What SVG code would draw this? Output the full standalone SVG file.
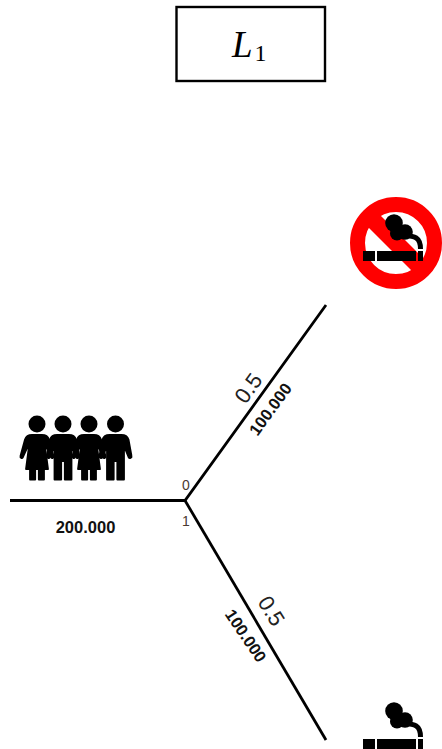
<svg xmlns="http://www.w3.org/2000/svg" width="442" height="749" viewBox="0 0 442 749">
<style>
.edge{fill:none;stroke:#000;stroke-width:2.8}
.box{fill:#fff;stroke:#000;stroke-width:2.4}
.sans{font-family:"Liberation Sans",Arial,sans-serif;text-anchor:middle}
.prob{font-size:22px;fill:#222}
.pay{font-size:16.500px;font-weight:bold;fill:#111}
.idx{font-size:14px;fill:#4a3a30}
.math{font-family:"Liberation Serif","Times New Roman",serif;fill:#000}
.fig{stroke:#000;stroke-width:1.800;stroke-linejoin:round}
</style>
<defs>
<g id="her">
<circle cx="0" cy="424" r="8.500"/>
<path class="fig" d="M-5 435H5C9 435 11 436.500 12 439.500L16.500 456C17 458 15 459 14 457L9 446H8L11 469H7V479.500H1.800V469H-1.800V479.500H-7V469H-11L-8 446H-9L-14 457C-15 459-17 458-16.500 456L-12 439.500C-11 436.500-9 435-5 435Z"/>
</g>
<g id="him">
<circle cx="0" cy="424" r="8.500"/>
<path class="fig" d="M-6 435H6C10 435 12 436.500 13 439.500L16 456C16.500 458 14 459 13 457L8.500 446V479.500H1.800V461H-1.800V479.500H-8.500V446L-13 457C-14 459-16.500 458-16 456L-13 439.500C-12 436.500-10 435-6 435Z"/>
</g>
<g id="smoke">
<circle cx="394" cy="711" r="8.800"/>
<circle cx="405" cy="720" r="7.800"/>
<circle cx="397" cy="721.500" r="7"/>
<path d="M405 723.500C414 724 420.500 725 420.500 737" fill="none" stroke="#000" stroke-width="5"/>
<rect x="363" y="739" width="12" height="10"/>
<rect x="377" y="739" width="39" height="10"/>
<rect x="418" y="739" width="5" height="10"/>
</g>
</defs>
<g id="connectors">
<path class="edge" d="M10 500.500H185L326 305"/>
<path class="edge" d="M185 500.500L326 740"/>
</g>
<g id="player">
<rect class="box" x="176.500" y="7" width="148.500" height="74"/>
<text class="math" x="232" y="57" font-size="37" font-style="italic">L</text>
<text class="math" x="254.500" y="60.500" font-size="24">1</text>
</g>
<g id="population">
<use href="#her" x="37" y="0"/>
<use href="#him" x="63" y="0"/>
<use href="#her" x="89" y="0"/>
<use href="#him" x="115.500" y="0"/>
</g>
<g id="non-smoker">
<circle cx="396" cy="243" r="38.500" fill="#fff" stroke="#f00" stroke-width="15"/>
<path d="M369 216L423 270" stroke="#f00" stroke-width="17" fill="none"/>
<use href="#smoke" x="0" y="-488"/>
</g>
<g id="smoker">
<use href="#smoke"/>
</g>
<g id="labels">
<text class="sans pay" x="85.500" y="532.500">200.000</text>
<text class="sans idx" x="186" y="489.500">0</text>
<text class="sans idx" x="186" y="525.500">1</text>
<text class="sans prob" transform="translate(254.500,392.500) rotate(-54)">0.5</text>
<text class="sans pay" transform="translate(275,412.500) rotate(-54)">100.000</text>
<text class="sans prob" transform="translate(265,615) rotate(58)">0.5</text>
<text class="sans pay" transform="translate(241,639) rotate(56)">100.000</text>
</g>
</svg>
